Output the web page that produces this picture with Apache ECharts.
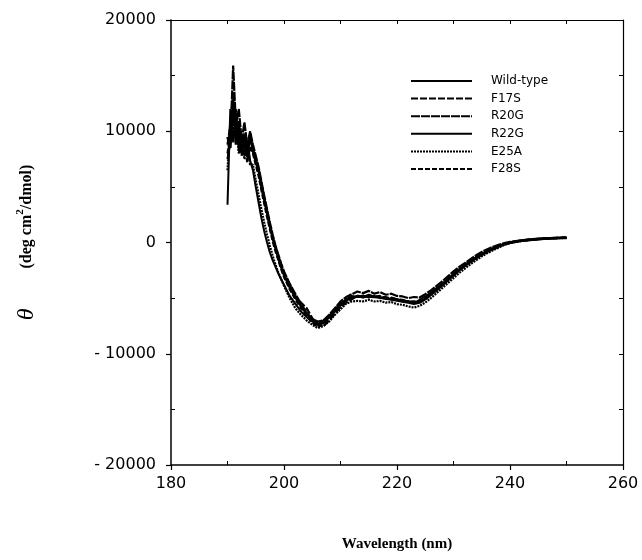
<!DOCTYPE html>
<html>
<head>
<meta charset="utf-8">
<script src="https://cdn.jsdelivr.net/npm/echarts@6/dist/echarts.min.js"></script>
<style>html,body{margin:0;padding:0;background:#fff;}#c{width:642px;height:560px;}</style>
</head>
<body>
<div id="c"></div>
<script>
// wavelengths (nm): 190-200 in 0.5 steps, 201-250 in 1 nm steps
const wavelengths = [190,190.5,191,191.5,192,192.5,193,193.5,194,194.5,195,195.5,196,196.5,197,197.5,198,198.5,199,199.5,200,
  201,202,203,204,205,206,207,208,209,210,211,212,213,214,215,216,217,218,219,220,221,222,223,224,225,
  226,227,228,229,230,231,232,233,234,235,236,237,238,239,240,241,242,243,244,245,246,247,248,249,250];

const seriesNames = ['Wild-type','F17S','R20G','R22G','E25A','F28S'];

const wildType = [3400,12000,9000,11500,8200,9500,7800,9200,7400,6500,5000,3600,2200,1000,0,-900,-1600,-2200,-2800,-3300,-3800,
  -4800,-5500,-6200,-6700,-7100,-7400,-7000,-6600,-6000,-5500,-5100,-4800,-4900,-4750,-4950,-4800,-5000,-4900,-5150,-5100,-5300,-5250,-5450,-5150,-4850,
  -4500,-4100,-3700,-3250,-2800,-2400,-2000,-1650,-1300,-1000,-750,-500,-300,-120,0,100,170,230,280,320,350,380,400,430,420];
const f17s = [8800,10500,13500,9000,11000,8500,9800,8000,9500,8200,7200,6300,5000,3800,2600,1500,500,-400,-1200,-2000,-2700,
  -3800,-4800,-5400,-5900,-6800,-7400,-7500,-7000,-6400,-5800,-5400,-5100,-4800,-4950,-4700,-4900,-4800,-5000,-4950,-5100,-5150,-5350,-5300,-5350,-5000,
  -4600,-4200,-3800,-3350,-2900,-2450,-2050,-1700,-1350,-1050,-800,-550,-330,-150,-20,80,160,220,270,310,350,370,400,420,440];
const r20g = [7500,9000,15900,10500,12000,9200,10800,8700,10000,8800,7800,6800,5500,4200,3000,1800,700,-300,-1100,-1900,-2600,
  -3700,-4600,-5500,-6300,-6900,-7100,-7000,-6500,-5900,-5300,-4900,-4650,-4400,-4550,-4350,-4600,-4450,-4700,-4600,-4800,-4850,-5000,-4900,-4950,-4650,
  -4300,-3900,-3500,-3050,-2600,-2200,-1850,-1500,-1150,-850,-600,-380,-200,-50,60,130,200,250,300,340,370,390,410,430,450];
const r22g = [9500,8500,12800,8800,10000,8000,9400,7700,9700,8300,7500,6500,5200,3900,2700,1500,400,-500,-1400,-2200,-2900,
  -4000,-4900,-5700,-6400,-6900,-7300,-7200,-6700,-6100,-5600,-5200,-4950,-4850,-4900,-4850,-4900,-4950,-5050,-5100,-5200,-5300,-5400,-5500,-5400,-5100,
  -4700,-4300,-3850,-3400,-2950,-2500,-2100,-1750,-1400,-1100,-820,-580,-350,-160,-30,70,150,210,260,300,340,370,390,410,430];
const e25a = [6500,11000,9500,12000,8000,9000,7500,8800,7000,7000,5600,4300,3000,1800,700,-300,-1200,-2000,-2700,-3300,-3900,
  -5000,-5900,-6500,-7000,-7400,-7700,-7500,-7100,-6500,-6000,-5500,-5300,-5250,-5300,-5150,-5300,-5250,-5400,-5350,-5550,-5600,-5750,-5850,-5700,-5400,
  -5000,-4550,-4100,-3650,-3200,-2750,-2350,-1950,-1600,-1250,-950,-700,-450,-220,-60,50,130,190,250,290,320,350,370,390,400];
const f28s = [8000,9800,11000,9500,10500,7800,8900,7200,8600,8000,7000,6000,4700,3500,2300,1200,100,-800,-1600,-2400,-3100,
  -4200,-5100,-5900,-6600,-7200,-7600,-7300,-6800,-6200,-5650,-5250,-4950,-4800,-4850,-4750,-4850,-4850,-4950,-5000,-5100,-5200,-5300,-5350,-5250,-5000,
  -4600,-4200,-3800,-3350,-2900,-2450,-2050,-1700,-1350,-1050,-780,-540,-320,-140,-10,90,160,220,270,320,350,380,400,420,440];

const xTicks = [180,200,220,240,260];
const yTicks = [-20000,-10000,0,10000,20000];

const allValues = [wildType,f17s,r20g,r22g,e25a,f28s];
const dashTypes = ['solid',[7,2],[9,1],'solid',[2,1],[5,2]];
const widths = [2,2.2,2.2,2.6,2.2,2.2];

const chart = echarts.init(document.getElementById('c'));
const fontSans = 'DejaVu Sans';
const series = allValues.map((vals,i)=>({
  name: seriesNames[i],
  type: 'line',
  xAxisIndex: 0, yAxisIndex: 0,
  data: wavelengths.map((w,j)=>[w, vals[j]]),
  symbol: 'none',
  showSymbol: false,
  animation: false,
  lineStyle: {color:'#000', width: widths[i], type: dashTypes[i]},
  itemStyle: {color:'#000'}
}));

chart.setOption({
  animation: false,
  backgroundColor: '#fff',
  grid: {left: 171, right: 19, top: 20, bottom: 95},
  legend: {
    orient: 'vertical', left: 405, top: 70,
    itemWidth: 61, itemHeight: 12, itemGap: 5.6,
    data: seriesNames,
    itemStyle: {opacity: 0},
    textStyle: {fontFamily: fontSans, fontSize: 12, color: '#000', padding: [0,0,0,14]}
  },
  xAxis: [{
    type: 'value', min: 180, max: 260, interval: 20,
    axisLine: {show: true, onZero: false, lineStyle: {color: '#000', width: 1.5}},
    axisTick: {show: true, inside: false, length: 5, lineStyle: {color: '#000', width: 1.2}},
    axisLabel: {fontFamily: fontSans, fontSize: 16, color: '#000', margin: 11,
      customValues: xTicks},
    splitLine: {show: false},
    name: 'Wavelength (nm)', nameLocation: 'middle', nameGap: 72,
    nameTextStyle: {fontFamily: 'Liberation Serif', fontWeight: 'bold', fontSize: 15, color: '#000'}
  },{
    type: 'value', min: 180, max: 260, position: 'bottom',
    axisLine: {show: false, onZero: false},
    axisTick: {show: true, inside: true, length: 4, lineStyle: {color: '#000', width: 1}, customValues: [190,210,230,250]},
    axisLabel: {show: false}, splitLine: {show: false}
  },{
    type: 'value', min: 180, max: 260, position: 'top',
    axisLine: {show: true, onZero: false, lineStyle: {color: '#000', width: 1.2}},
    axisTick: {show: true, inside: true, length: 4, lineStyle: {color: '#000', width: 1}, customValues: [190,200,210,220,230,240,250]},
    axisLabel: {show: false}, splitLine: {show: false}
  }],
  yAxis: [{
    type: 'value', min: -20000, max: 20000, interval: 10000,
    axisLine: {show: true, onZero: false, lineStyle: {color: '#000', width: 1.5}},
    axisTick: {show: true, inside: false, length: 5, lineStyle: {color: '#000', width: 1.2}},
    axisLabel: {fontFamily: fontSans, fontSize: 16, color: '#000', margin: 15,
      customValues: yTicks,
      formatter: v => v < 0 ? '- ' + Math.abs(v) : String(v)},
    splitLine: {show: false},
    name: '{t|θ}{b|(deg cm}{s|2}{b|/dmol)}',
    nameLocation: 'middle', nameGap: 132, nameRotate: 90,
    nameTextStyle: {
      rich: {
        t: {fontFamily: 'Liberation Serif', fontStyle: 'italic', fontSize: 24, color: '#000', lineHeight: 24, padding: [0,40,0,0]},
        b: {fontFamily: 'Liberation Serif', fontWeight: 'bold', fontSize: 16, color: '#000', lineHeight: 24, verticalAlign: 'middle'},
        s: {fontFamily: 'Liberation Serif', fontWeight: 'bold', fontSize: 11, color: '#000', lineHeight: 24, verticalAlign: 'top'}
      }
    }
  },{
    type: 'value', min: -20000, max: 20000, position: 'left',
    axisLine: {show: false, onZero: false},
    axisTick: {show: true, inside: true, length: 4, lineStyle: {color: '#000', width: 1}, customValues: [-15000,-5000,5000,15000]},
    axisLabel: {show: false}, splitLine: {show: false}
  },{
    type: 'value', min: -20000, max: 20000, position: 'right',
    axisLine: {show: true, onZero: false, lineStyle: {color: '#000', width: 1.2}},
    axisTick: {show: true, inside: true, length: 4, lineStyle: {color: '#000', width: 1}, customValues: [-15000,-10000,-5000,0,5000,10000,15000]},
    axisLabel: {show: false}, splitLine: {show: false}
  }],
  series: series
});
</script>
</body>
</html>
